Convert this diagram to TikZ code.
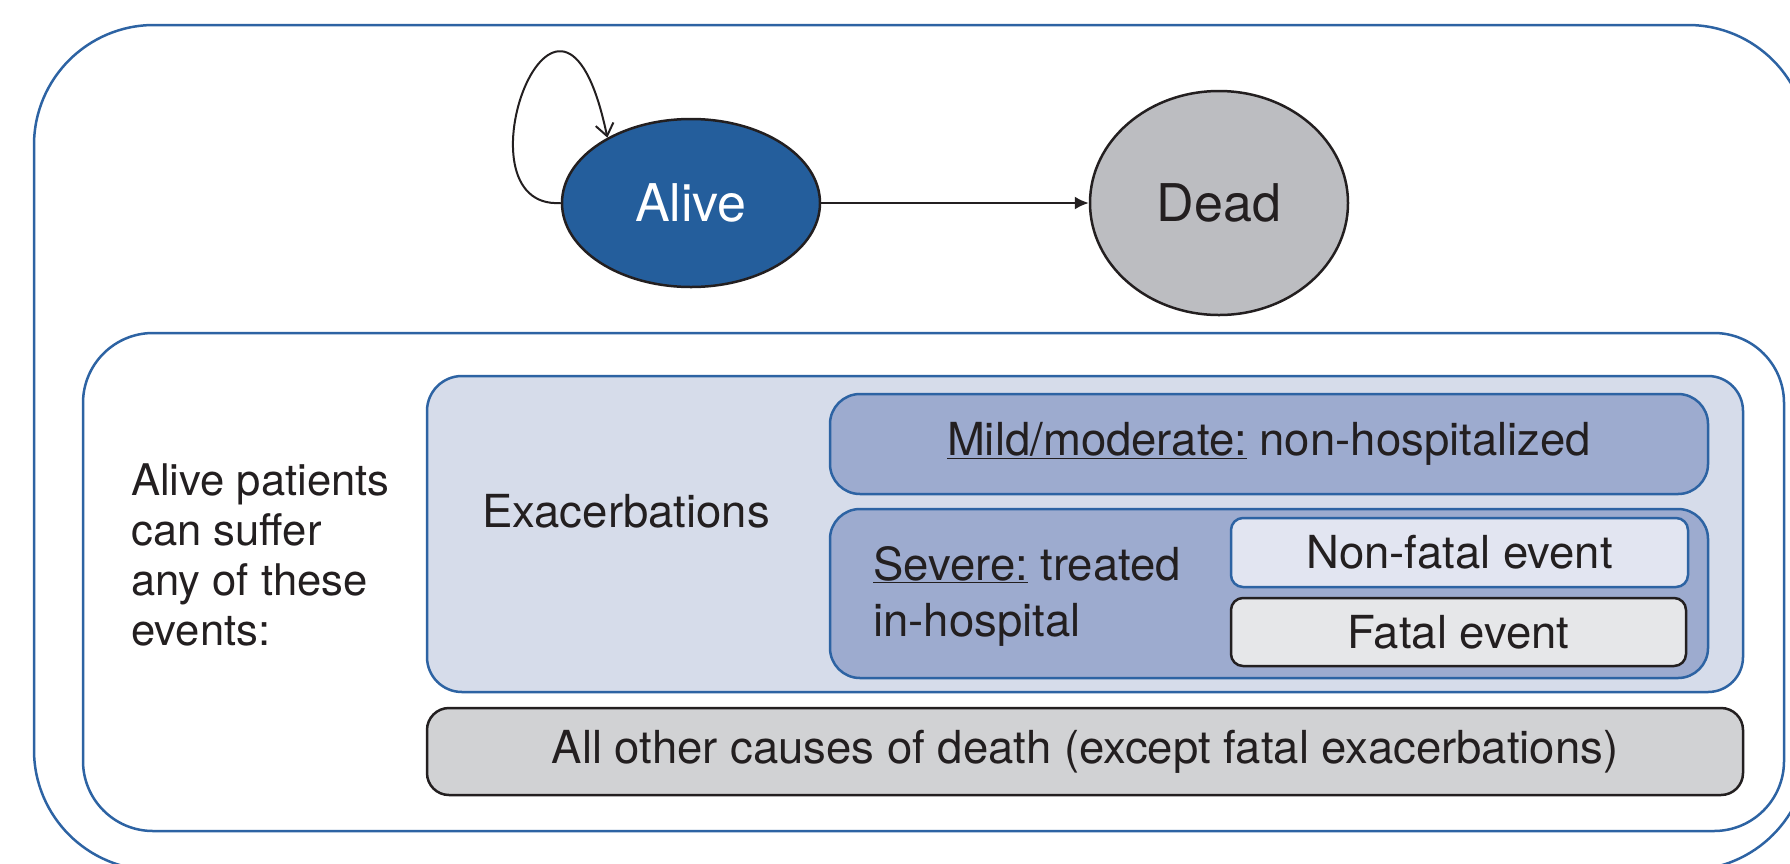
\documentclass[tikz,border=0pt]{standalone}
\usepackage{fontspec}
\setmainfont{TeX Gyre Heros}
\usetikzlibrary{shapes.geometric,arrows.meta}
\definecolor{edgeblue}{RGB}{45,99,163}
\definecolor{aliveblue}{RGB}{36,94,156}
\definecolor{deadgray}{RGB}{188,189,193}
\definecolor{exacfill}{RGB}{214,220,234}
\definecolor{sevfill}{RGB}{157,171,207}
\definecolor{nonfatfill}{RGB}{226,229,241}
\definecolor{fatfill}{RGB}{230,231,233}
\definecolor{otherfill}{RGB}{209,210,212}
\definecolor{ink}{RGB}{35,31,32}
\tikzset{%
	status/.style = {draw=ink, line width=2.5pt, ellipse,
		font=\fontsize{52}{60}\selectfont}, % Markov state
	panel/.style  = {draw=edgeblue, line width=2.5pt, rectangle}, % blue frame
	box/.style    = {draw=ink, line width=2.5pt, rectangle}, % black frame
	txt/.style    = {font=\fontsize{45.5}{50}\selectfont, text=ink, align=left, inner sep=0pt},
	link/.style   = {draw=ink, line width=2pt}
}

\begin{document}
\begin{tikzpicture}[x=1pt,y=-1pt]
			\clip (0,0) rectangle (1790,863);
			\node[panel, rounded corners=120pt, minimum width=1774pt, minimum height=845pt] (outer) at (921,447.5) {};
			\node[status, fill=aliveblue, text=white, minimum width=258pt, minimum height=168pt] (alive) at (691,203) {Alive};
			\node[status, fill=deadgray, text=ink, minimum width=258pt, minimum height=224pt] (dead) at (1219,203) {Dead};

			\node[panel, fill=white, rounded corners=70pt, minimum width=1701pt, minimum height=498pt] (inner) at (933.5,582) {};
			\node[panel, fill=exacfill, rounded corners=35pt, minimum width=1316pt, minimum height=316pt] (exac) at (1085,534) {};
			\node[panel, fill=sevfill, rounded corners=30pt, minimum width=878pt, minimum height=100pt, txt] (mild) at (1269,444)
				{\underline{Mild/moderate:} non-hospitalized};
			\node[panel, fill=sevfill, rounded corners=30pt, minimum width=878pt, minimum height=169pt] (severe) at (1269,593.5) {};
			\node[panel, fill=nonfatfill, rounded corners=12pt, minimum width=457pt, minimum height=69pt, txt] (nonfatal) at (1459.5,552.5) {Non-fatal event};
			\node[box, fill=fatfill, rounded corners=12pt, minimum width=455pt, minimum height=68pt, txt] (fatal) at (1458.5,632) {Fatal event};
			\node[box, fill=otherfill, rounded corners=22pt, minimum width=1316pt, minimum height=87pt, txt] (other) at (1085,751.5)
				{All other causes of death (except fatal exacerbations)};

			\node[txt, anchor=west, font=\fontsize{43.6}{50}\selectfont] (events) at (131,555) {Alive patients\\can suffer\\any of these\\events:};
			\node[txt, anchor=west] (exactxt) at (482,511) {Exacerbations};
			\node[txt, anchor=west, font=\fontsize{45.5}{56}\selectfont] (sevtxt) at (873,596) {\underline{Severe:} treated\\in-hospital};

			\draw[link,-{Latex[length=14pt,width=13pt]}] (alive) -- (dead);
			\draw[link,-{Straight Barb[length=12pt,width=18pt]}] (alive.west) .. controls (450,210) and (560,-90) .. (alive.142);
\end{tikzpicture}
\end{document}
